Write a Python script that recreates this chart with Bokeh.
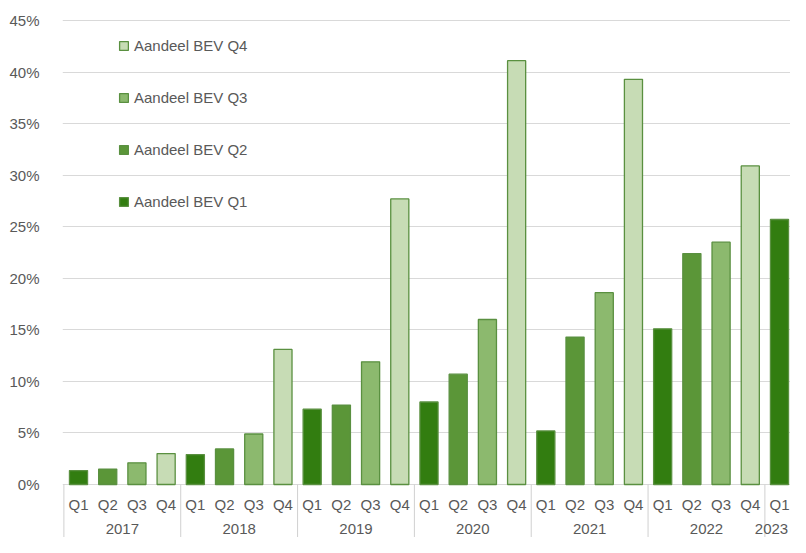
from bokeh.plotting import figure
from bokeh.models import (ColumnDataSource, Legend, LegendItem, FixedTicker,
                          Range1d, CustomJSTickFormatter)
from bokeh.core.properties import value
from bokeh.embed import file_html
from bokeh.resources import INLINE

# ---- data ----
years = ["2017", "2018", "2019", "2020", "2021", "2022", "2023"]
quarters = ["Q1", "Q2", "Q3", "Q4"]
q_labels = ["Q1", "Q2", "Q3", "Q4"] * 6 + ["Q1"]
year_of_bar = [y for y in years[:6] for _ in range(4)] + ["2023"]
share_bev = [1.35, 1.5, 2.1, 3.0,
             2.9, 3.45, 4.9, 13.1,
             7.3, 7.7, 11.9, 27.7,
             8.0, 10.7, 16.0, 41.1,
             5.2, 14.3, 18.6, 39.3,
             15.1, 22.4, 23.5, 30.9,
             25.7]
series_names = ["Aandeel BEV Q1", "Aandeel BEV Q2", "Aandeel BEV Q3", "Aandeel BEV Q4"]
y_ticks = [0, 5, 10, 15, 20, 25, 30, 35, 40, 45]

# ---- styles ----
fills = {"Q1": "#327d10", "Q2": "#5b9638", "Q3": "#8cb96e", "Q4": "#c7dcb5"}
outline = "#5a9040"
font = "Liberation Sans"
txt_col = "#595959"
Y_MIN, Y_MAX = -5.14, 46.94

idx = list(range(len(share_bev)))

p = figure(width=790, height=537, output_backend="svg", toolbar_location=None,
           x_range=Range1d(-0.548, 24.377), y_range=Range1d(Y_MIN, Y_MAX),
           min_border_left=62, min_border_right=0, min_border_top=0,
           min_border_bottom=0)
p.outline_line_color = None
p.xaxis.visible = False
p.xgrid.grid_line_color = None
p.ygrid.grid_line_color = "#d9d9d9"
p.ygrid.grid_line_width = 1
p.ygrid.ticker = FixedTicker(ticks=y_ticks)

ax = p.yaxis[0]
ax.ticker = FixedTicker(ticks=y_ticks)
ax.formatter = CustomJSTickFormatter(code="return tick + '%';")
ax.axis_line_color = None
ax.major_tick_line_color = None
ax.minor_tick_line_color = None
ax.major_label_standoff = 17
ax.major_label_text_font = font
ax.major_label_text_font_size = "15px"
ax.major_label_text_color = txt_col

# separators of category box
sep_x = [i - 0.5 for i in idx if q_labels[i] == "Q1"]
p.segment(x0=sep_x, y0=[0] * len(sep_x), x1=sep_x, y1=[Y_MIN] * len(sep_x),
          line_color="#d0d0d0", line_width=1)

renderers = {}
for q, name in zip(quarters, series_names):
    xs = [i for i in idx if q_labels[i] == q]
    src = ColumnDataSource(dict(x=xs, top=[share_bev[i] for i in xs]))
    renderers[q] = p.vbar(x="x", top="top", bottom=0, width=0.62, source=src,
                          fill_color=fills[q], line_color=outline, line_width=1.3)

# quarter labels
p.text(x=idx, y=[-1.94] * len(idx), text=q_labels, text_align="center",
       text_baseline="middle", text_font=value(font), text_font_size="15px",
       text_color=txt_col)
# year labels (last one nudged left so it stays inside the canvas)
yx = []
for y in years:
    pos = [i for i in idx if year_of_bar[i] == y]
    yx.append(sum(pos) / len(pos))
yoff = [0] * (len(years) - 1) + [-8]
ysrc = ColumnDataSource(dict(x=yx, y=[-4.27] * len(yx), text=years, xo=yoff))
p.text(x="x", y="y", text="text", x_offset="xo", source=ysrc,
       text_align="center", text_baseline="middle", text_font=value(font),
       text_font_size="15px", text_color=txt_col)

items = [LegendItem(label=n, renderers=[renderers[q]])
         for q, n in zip(quarters[::-1], series_names[::-1])]
legend = Legend(items=items, location=(56, 326), orientation="vertical",
                glyph_width=11, glyph_height=11, label_height=20,
                spacing=32, padding=0, margin=0, label_standoff=5,
                label_text_font=font, label_text_font_size="15px",
                label_text_color=txt_col, background_fill_alpha=0,
                border_line_alpha=0)
p.add_layout(legend)

open("out.html", "w").write(file_html(p, INLINE))
